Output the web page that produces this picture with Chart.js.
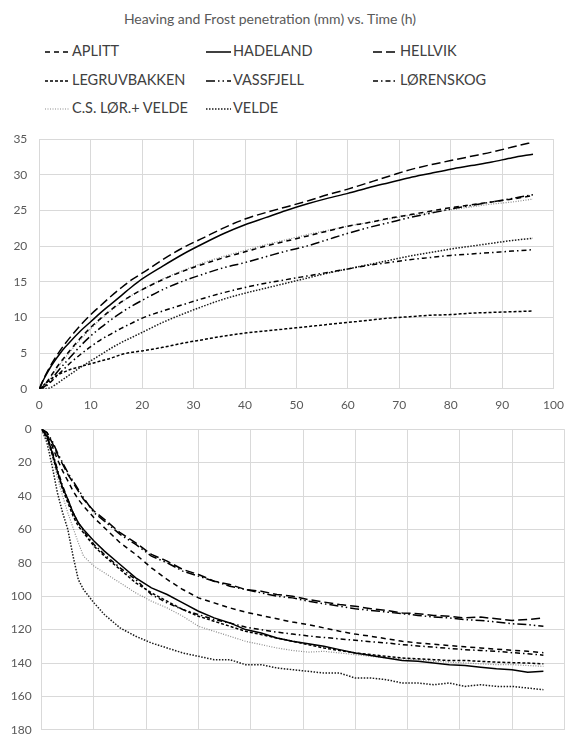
<!DOCTYPE html>
<html>
<head>
<meta charset="utf-8">
<script src="https://cdn.jsdelivr.net/npm/chart.js@4"></script>
<style>
  body { margin: 0; background: #fff; font-family: Lato, "Noto Sans", sans-serif; }
  #wrap { position: relative; width: 573px; height: 747px; overflow: hidden; }
  #title { position: absolute; top: 10px; left: 0; width: 540px; text-align: center; font-size: 14px; color: #595959; }
  .item { position: absolute; height: 20px; font-size: 14.5px; color: #404040; white-space: nowrap; }
  .item svg { position: absolute; left: 0; top: 5px; }
  .item span { position: absolute; top: 0; }
  canvas { position: absolute; left: 0; }
</style>
</head>
<body>
<div id="wrap">
  <div id="title">Heaving and Frost penetration (mm) vs. Time (h)</div>
  <div id="legend"></div>
  <canvas id="heaveChart" width="573" height="300" style="top:120px"></canvas>
  <canvas id="frostChart" width="573" height="335" style="top:412px"></canvas>
</div>
<script>
// Series names (legend order)
const seriesNames = ["APLITT", "HADELAND", "HELLVIK", "LEGRUVBAKKEN", "VASSFJELL", "LØRENSKOG", "C.S. LØR.+ VELDE", "VELDE"];

// Axis ticks
const xTicks = [0, 10, 20, 30, 40, 50, 60, 70, 80, 90, 100];
const heaveTicks = [0, 5, 10, 15, 20, 25, 30, 35];
const frostTicks = [0, 20, 40, 60, 80, 100, 120, 140, 160, 180];

// Heaving (mm), top chart
const heaveHours = [0, 1, 2, 3, 4, 5, 6, 8, 10, 12, 14, 16, 18, 20, 24, 28, 32, 36, 40, 44, 48, 52, 56, 60, 64, 68, 72, 76, 80, 84, 88, 92, 96];
const heaveAplitt   = [0, 0.5, 1.5, 2.6, 3.6, 4.5, 5.4, 7.1, 8.6, 9.9, 11.1, 12.2, 13.1, 13.9, 15.3, 16.5, 17.5, 18.4, 19.2, 20.0, 20.7, 21.4, 22.1, 22.8, 23.3, 23.9, 24.4, 24.9, 25.4, 25.8, 26.2, 26.6, 27.1];
const heaveHadeland = [0, 1.5, 2.8, 3.9, 4.9, 5.8, 6.6, 8.1, 9.4, 10.7, 11.9, 13.1, 14.3, 15.4, 17.2, 18.9, 20.4, 21.8, 23.0, 24.0, 25.0, 25.9, 26.7, 27.4, 28.2, 28.9, 29.6, 30.2, 30.8, 31.3, 31.8, 32.4, 32.9];
const heaveHellvik  = [0, 1.6, 3.0, 4.2, 5.3, 6.3, 7.2, 8.9, 10.4, 11.7, 13.0, 14.2, 15.3, 16.2, 18.1, 19.8, 21.2, 22.6, 23.8, 24.7, 25.5, 26.3, 27.2, 28.0, 28.9, 29.8, 30.7, 31.4, 32.0, 32.6, 33.2, 33.9, 34.6];
const heaveLegruv   = [0, 0.6, 1.2, 1.7, 2.1, 2.4, 2.7, 3.1, 3.5, 3.9, 4.3, 4.8, 5.1, 5.3, 5.8, 6.4, 6.9, 7.4, 7.8, 8.1, 8.4, 8.7, 9.0, 9.3, 9.6, 9.9, 10.1, 10.3, 10.4, 10.6, 10.7, 10.8, 10.9];
const heaveVassfjell= [0, 0.3, 1.0, 1.9, 2.8, 3.6, 4.4, 6.0, 7.4, 8.6, 9.7, 10.7, 11.6, 12.4, 13.9, 15.1, 16.1, 17.0, 17.7, 18.5, 19.3, 20.0, 20.9, 21.8, 22.6, 23.3, 24.0, 24.6, 25.2, 25.7, 26.2, 26.7, 27.2];
const heaveLorenskog= [0, 0.2, 0.8, 1.5, 2.2, 2.9, 3.6, 4.8, 5.9, 6.9, 7.7, 8.5, 9.2, 9.9, 10.9, 11.8, 12.7, 13.5, 14.2, 14.8, 15.3, 15.8, 16.3, 16.8, 17.3, 17.7, 18.1, 18.4, 18.7, 18.9, 19.1, 19.3, 19.5];
const heaveCS       = [0, 0.4, 1.3, 2.4, 3.4, 4.3, 5.2, 6.9, 8.4, 9.8, 11.0, 12.1, 13.1, 13.9, 15.4, 16.6, 17.7, 18.6, 19.4, 20.2, 20.9, 21.6, 22.2, 22.8, 23.3, 23.8, 24.3, 24.7, 25.1, 25.5, 25.9, 26.2, 26.6];
const heaveVelde    = [0, 0, 0.1, 0.5, 1.0, 1.5, 2.0, 3.0, 3.9, 4.8, 5.7, 6.5, 7.2, 7.9, 9.3, 10.5, 11.6, 12.6, 13.4, 14.1, 14.8, 15.5, 16.2, 16.8, 17.4, 18.0, 18.6, 19.1, 19.6, 20.0, 20.4, 20.8, 21.1];

// Frost penetration (mm), bottom chart (reversed axis)
const frostHours = [0, 1, 2, 3, 4, 5, 6, 7, 8, 10, 12, 15, 18, 21, 24, 27, 30, 33, 36, 39, 42, 45, 48, 51, 54, 57, 60, 63, 66, 69, 72, 75, 78, 81, 84, 87, 90, 93, 96];
const frostAplitt   = [0, 3, 10, 18, 25, 31, 37, 42, 46, 53, 59, 68, 75, 83, 90, 96, 101, 104, 107, 109.5, 111.5, 113.5, 115.5, 117, 119, 121, 122.7, 124, 125.5, 127, 128, 128.8, 129.5, 130.3, 131, 131.7, 132.4, 133, 133.8];
const frostHadeland = [0, 4, 14, 25, 35, 42, 50, 56, 60, 67, 73, 81, 89, 95, 99, 104, 109, 113, 116, 120, 122, 125, 127, 128.5, 130, 132, 134, 135.5, 137, 138.5, 139, 140, 141, 141.5, 142.5, 143.5, 144, 145.5, 145];
const frostHellvik  = [0, 2, 8, 15, 21, 27, 32, 37, 42, 49, 54, 62, 68, 75, 79, 84, 87, 91, 93, 96, 97, 99, 100, 102, 103.5, 105, 106, 107.5, 108.5, 110, 110.5, 111.5, 112, 113, 112.5, 113.5, 114.5, 114, 113];
const frostLegruv   = [0, 5, 15, 26, 36, 44, 52, 58, 62, 70, 76, 84, 92, 98, 103, 108, 112, 115, 118, 121, 123, 125, 127, 129, 131, 132.5, 134, 135, 136, 137, 137.5, 138, 138.5, 138.5, 139, 139.5, 139.8, 140, 140.5];
const frostVassfjell= [0, 2, 7, 14, 20, 26, 31, 36, 41, 50, 55, 63, 69, 76, 80, 85, 88, 91, 94, 96, 98, 100, 101, 103, 104.5, 106, 107.5, 108.5, 109.5, 110.5, 111.5, 112.5, 113, 114, 114.5, 115.5, 116.5, 117, 118];
const frostLorenskog= [0, 4, 13, 24, 34, 42, 50, 56, 61, 69, 75, 83, 90, 99, 104, 108, 111, 114, 116, 118.5, 120, 121.5, 122.7, 123.8, 124.7, 125.6, 126.4, 127.3, 128, 129, 129.8, 130.5, 131.3, 132, 132.5, 133, 133.8, 134.5, 135.3];
const frostCS       = [0, 6, 16, 29, 40, 50, 59, 68, 76, 82, 86, 92, 98, 103, 107, 112, 118, 121, 124, 127, 129, 131, 132.5, 133.5, 133, 134, 135, 136, 137, 137.5, 138, 139, 139.5, 140, 140.5, 141, 141, 141.5, 142];
const frostVelde    = [0, 8, 22, 38, 50, 60, 76, 90, 96, 104, 111, 119, 124, 128, 131, 134, 136, 138, 138, 141, 141, 143, 144, 145, 146, 146, 149, 149, 150, 152, 152, 153, 152, 154, 153, 154, 154, 155, 156];

const heaveValues = [heaveAplitt, heaveHadeland, heaveHellvik, heaveLegruv, heaveVassfjell, heaveLorenskog, heaveCS, heaveVelde];
const frostValues = [frostAplitt, frostHadeland, frostHellvik, frostLegruv, frostVassfjell, frostLorenskog, frostCS, frostVelde];

// Line styles per series
const lineStyles = [
  { color: '#000', dash: [5, 4], width: 1.5 },
  { color: '#000', dash: [], width: 1.5 },
  { color: '#000', dash: [9, 4], width: 1.5 },
  { color: '#000', dash: [3, 2], width: 1.5 },
  { color: '#000', dash: [9, 3, 1.5, 3, 1.5, 3], width: 1.5 },
  { color: '#000', dash: [5, 3, 1.5, 3], width: 1.5 },
  { color: '#8c8c8c', dash: [1, 1.5], width: 1.2 },
  { color: '#1a1a1a', dash: [1.5, 1.5], width: 1.5 }
];

// Legend (HTML, 3 columns)
const legendCols = [45, 206, 373];
const legendRows = [42, 71, 99];
const legend = document.getElementById('legend');
seriesNames.forEach((name, i) => {
  const st = lineStyles[i];
  const item = document.createElement('div');
  item.className = 'item';
  item.style.left = legendCols[i % 3] + 'px';
  item.style.top = legendRows[Math.floor(i / 3)] + 'px';
  const dash = st.dash.length ? st.dash.join(' ') : 'none';
  item.innerHTML = `<svg width="25" height="10"><line x1="0" y1="5" x2="25" y2="5" stroke="${st.color}" stroke-width="${st.width}" stroke-dasharray="${dash}"/></svg><span style="left:27px">${name}</span>`;
  legend.appendChild(item);
});

function makeDatasets(hours, values, smooth) {
  return seriesNames.map((name, i) => ({
    label: name,
    data: hours.map((h, j) => ({ x: h, y: values[i][j] })),
    borderColor: lineStyles[i].color,
    borderDash: lineStyles[i].dash,
    borderWidth: lineStyles[i].width,
    pointRadius: 0,
    fill: false,
    cubicInterpolationMode: smooth ? 'monotone' : 'default',
    tension: 0
  }));
}

const tickColor = '#595959';
const gridColor = '#d9d9d9';
const tickFont = { family: 'Lato', size: 12 };

new Chart(document.getElementById('heaveChart'), {
  type: 'line',
  data: { datasets: makeDatasets(heaveHours, heaveValues, true) },
  options: {
    responsive: false,
    animation: false,
    devicePixelRatio: 1,
    layout: { padding: { top: 11, right: 9.7, left: 0, bottom: 0 } },
    plugins: { legend: { display: false }, tooltip: { enabled: false } },
    scales: {
      x: {
        type: 'linear', min: xTicks[0], max: xTicks[xTicks.length - 1],
        afterBuildTicks: s => { s.ticks = xTicks.map(v => ({ value: v })); },
        ticks: { color: tickColor, font: tickFont, padding: 9, maxRotation: 0 },
        grid: { color: gridColor, drawTicks: false },
        border: { color: gridColor },
        afterFit: s => { s.height = 31.3; }
      },
      y: {
        min: heaveTicks[0], max: heaveTicks[heaveTicks.length - 1],
        afterBuildTicks: s => { s.ticks = heaveTicks.map(v => ({ value: v })); },
        ticks: { color: tickColor, font: tickFont, padding: 12 },
        grid: { color: gridColor, drawTicks: false },
        border: { color: gridColor },
        afterFit: s => { s.width = 39.3; }
      }
    }
  }
});

new Chart(document.getElementById('frostChart'), {
  type: 'line',
  data: { datasets: makeDatasets(frostHours, frostValues, false) },
  options: {
    responsive: false,
    animation: false,
    devicePixelRatio: 1,
    layout: { padding: { top: 8, right: 8.7, left: 0, bottom: 4.3 } },
    plugins: { legend: { display: false }, tooltip: { enabled: false } },
    scales: {
      x: {
        type: 'linear', min: xTicks[0], max: xTicks[xTicks.length - 1],
        afterBuildTicks: s => { s.ticks = xTicks.map(v => ({ value: v })); },
        ticks: { display: false },
        grid: { color: gridColor, drawTicks: false },
        border: { color: gridColor }
      },
      y: {
        reverse: true,
        min: frostTicks[0], max: frostTicks[frostTicks.length - 1],
        afterBuildTicks: s => { s.ticks = frostTicks.map(v => ({ value: v })); },
        ticks: { color: tickColor, font: tickFont, padding: 10 },
        grid: { color: gridColor, drawTicks: false },
        border: { color: gridColor },
        afterFit: s => { s.width = 41.7; }
      }
    }
  }
});
</script>
</body>
</html>
